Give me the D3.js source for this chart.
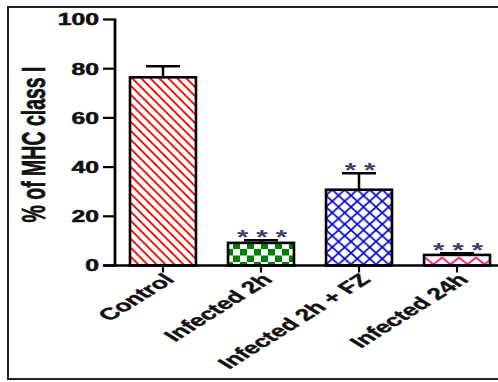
<!DOCTYPE html>
<html><head><meta charset="utf-8">
<script src="https://cdn.jsdelivr.net/npm/d3@7"></script>
<style>body{margin:0;background:#fff}svg{display:block}</style>
</head><body>
<script>
const categories = ["Control", "Infected 2h", "Infected 2h + FZ", "Infected 24h"];
const means = [76.5, 9.2, 30.8, 4.3];
const errUpper = [81, 10.3, 37.5, 5];
const stars = ["", "* * *", "* *", "* * *"];
const yTicks = [0, 20, 40, 60, 80, 100];
const patternIds = ["pDiag", "pCheck", "pCross", "pZig"];

const W = 498, H = 382, K = 1.5;
const FONT = "Liberation Sans, Arial, sans-serif";
const svg = d3.select("body").append("svg").attr("width", W).attr("height", H);
const defs = svg.append("defs");

// patterns
const p1 = defs.append("pattern").attr("id","pDiag").attr("patternUnits","userSpaceOnUse").attr("width",9).attr("height",9);
p1.append("path").attr("d","M-2,-2 L11,11 M-2,7 L2,11 M7,-2 L11,2").attr("stroke","#ff0000").attr("stroke-width",1.8);
const p2 = defs.append("pattern").attr("id","pCheck").attr("patternUnits","userSpaceOnUse").attr("width",14).attr("height",13).attr("x",2).attr("y",2);
p2.append("rect").attr("width",14).attr("height",13).attr("fill","#fff");
p2.append("rect").attr("x",0).attr("y",0).attr("width",7).attr("height",6.5).attr("fill","#008000");
p2.append("rect").attr("x",7).attr("y",6.5).attr("width",7).attr("height",6.5).attr("fill","#008000");
const p3 = defs.append("pattern").attr("id","pCross").attr("patternUnits","userSpaceOnUse").attr("width",12.5).attr("height",11.5).attr("x",1);
p3.append("path").attr("d","M0,0 L12.5,11.5 M0,11.5 L12.5,0").attr("stroke","#0000cc").attr("stroke-width",1.6);
const p4 = defs.append("pattern").attr("id","pZig").attr("patternUnits","userSpaceOnUse").attr("width",17).attr("height",30);

const x = d3.scaleBand().domain(categories).range([115, 505]).paddingInner(0.327).paddingOuter(0.153);
const y = d3.scaleLinear().domain([0, 100]).range([265.5, 19.5]);

// border
svg.append("rect").attr("x",8).attr("y",7).attr("width",W+20).attr("height",372)
  .attr("fill","none").attr("stroke","#222").attr("stroke-width",2);

// bars
const g = svg.append("g");
categories.forEach((c,i)=>{
  const bx = x(c), bw = x.bandwidth(), cx = bx + bw/2;
  const top = y(means[i]);
  if (i === 3) {
    p4.attr("y", top + 1);
    p4.append("path").attr("d","M0,1.5 L8.5,8.5 L17,1.5").attr("fill","none").attr("stroke","#ff1a8c").attr("stroke-width",1.8);
  }
  g.append("line").attr("x1",cx).attr("x2",cx).attr("y1",top).attr("y2",y(errUpper[i])).attr("stroke","#000").attr("stroke-width",2.5);
  g.append("line").attr("x1",cx-17).attr("x2",cx+17).attr("y1",y(errUpper[i])).attr("y2",y(errUpper[i])).attr("stroke","#000").attr("stroke-width",2.5);
  g.append("rect").attr("x",bx).attr("y",top).attr("width",bw).attr("height",y(0)-top)
    .attr("fill","url(#"+patternIds[i]+")").attr("stroke","#000").attr("stroke-width",2.6);
  if (stars[i]) {
    g.append("text").attr("transform",`translate(${cx+1},${y(errUpper[i]) + 4}) scale(1.45,1)`)
      .attr("text-anchor","middle").attr("font-family",FONT)
      .attr("font-weight","bold").attr("font-size",20).attr("fill","#39406a")
      .text(stars[i]);
  }
});

// axes
svg.append("line").attr("x1",115).attr("x2",115).attr("y1",y(100)-1).attr("y2",y(0)+1).attr("stroke","#000").attr("stroke-width",2.8);
svg.append("line").attr("x1",103).attr("x2",W+5).attr("y1",y(0)).attr("y2",y(0)).attr("stroke","#000").attr("stroke-width",2.4);
yTicks.forEach(t=>{
  svg.append("line").attr("x1",103).attr("x2",115).attr("y1",y(t)).attr("y2",y(t)).attr("stroke","#000").attr("stroke-width",2.2);
  svg.append("text").attr("transform",`translate(99,${y(t)}) scale(${K},1)`).attr("text-anchor","end")
    .attr("dy","0.36em").attr("font-family",FONT).attr("font-weight","bold")
    .attr("font-size",16.5).attr("fill","#111").attr("stroke","#111").attr("stroke-width",0.5).text(t);
});
categories.forEach(c=>{
  const cx = x(c) + x.bandwidth()/2;
  svg.append("line").attr("x1",cx).attr("x2",cx).attr("y1",y(0)).attr("y2",y(0)+7).attr("stroke","#000").attr("stroke-width",2.2);
  svg.append("text").attr("transform",`translate(${cx+6},${y(0)+11}) scale(1.6,1) rotate(-45)`)
    .attr("text-anchor","end").attr("dy","0.35em").attr("font-family",FONT)
    .attr("font-weight","bold").attr("font-size",16.5).attr("fill","#111").attr("stroke","#111").attr("stroke-width",0.4).text(c);
});
// y title
svg.append("text").attr("transform",`translate(33,${(y(0)+y(100))/2 + 2}) scale(1.7,1) rotate(-90)`)
  .attr("text-anchor","middle").attr("dy","0.36em").attr("font-family",FONT)
  .attr("font-weight","bold").attr("font-size",19.5).attr("fill","#111").attr("stroke","#111").attr("stroke-width",0.4).text("% of MHC class I");
</script>
</body></html>
